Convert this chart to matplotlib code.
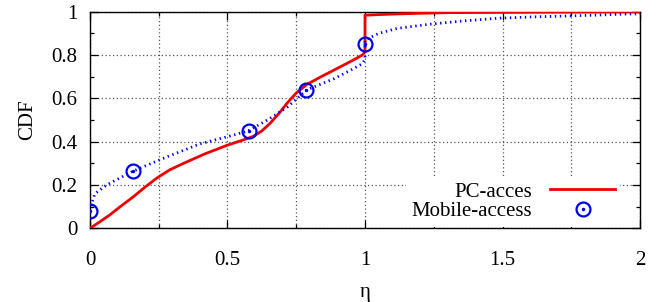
import matplotlib
matplotlib.use('Agg')
import matplotlib.pyplot as plt
from matplotlib.ticker import MultipleLocator

plt.rcParams['font.family'] = ['Liberation Serif', 'DejaVu Serif']

# PC-acces curve
pc_x = [0.0, 0.03, 0.07, 0.11, 0.158, 0.2, 0.243, 0.29, 0.34, 0.42, 0.5, 0.55, 0.595, 0.625, 0.655,
        0.69, 0.716, 0.75, 0.789, 0.84, 0.886, 0.947, 0.99, 1.0, 1.0, 1.05, 1.116, 1.2, 1.3, 1.6, 2.0]
pc_y = [0.0, 0.025, 0.06, 0.1, 0.146, 0.19, 0.232, 0.27, 0.30, 0.345, 0.384, 0.405, 0.425, 0.45, 0.485,
        0.535, 0.577, 0.625, 0.665, 0.70, 0.73, 0.77, 0.80, 0.815, 0.984, 0.987, 0.99, 0.993, 0.996, 0.998, 1.0]

# Mobile-access curve
mob_x = [0.0, 0.005, 0.018, 0.06, 0.158, 0.28, 0.4, 0.52, 0.575, 0.645, 0.718, 0.789, 0.886,
         0.947, 0.99, 1.0, 1.0, 1.05, 1.116, 1.238, 1.36, 1.48, 1.6, 1.72, 1.85, 1.96, 2.0]
mob_y = [0.08, 0.11, 0.16, 0.2, 0.265, 0.33, 0.39, 0.43, 0.45, 0.5, 0.56, 0.64, 0.69,
         0.73, 0.76, 0.78, 0.87, 0.9, 0.923, 0.943, 0.958, 0.97, 0.976, 0.98, 0.985, 0.99, 0.99]

# marker points on the mobile curve
mk_x = [0.0, 0.157, 0.577, 0.787, 1.0]
mk_y = [0.08, 0.265, 0.45, 0.64, 0.853]

fig = plt.figure(figsize=(6.69, 3.02), dpi=100)
ax = fig.add_axes([0.1345, 0.244, 0.8222, 0.717])

ax.plot(pc_x, pc_y, color='#ee0000', lw=2.0, zorder=3)
ax.plot(mob_x, mob_y, color='#0000ee', lw=2.0, linestyle=(0, (0.5, 1.3)), zorder=4)
ax.plot(mk_x, mk_y, linestyle='none', marker='o', ms=10, mfc='none', mec='#0000ee', mew=1.6, zorder=5)
ax.plot(mk_x, mk_y, linestyle='none', marker='.', ms=3, color='#0000ee', zorder=5)

# legend handles
h1, = ax.plot([], [], color='#ee0000', lw=2.0)
h2a, = ax.plot([], [], linestyle='none', marker='o', ms=10, mfc='none', mec='#0000ee', mew=1.6)
h2b, = ax.plot([], [], linestyle='none', marker='.', ms=3, color='#0000ee')
leg = ax.legend([h1, (h2a, h2b)], ['PC-acces', 'Mobile-access'], loc='lower right',
                bbox_to_anchor=(0.983, -0.04), markerfirst=False, frameon=True, fancybox=False,
                edgecolor='none', framealpha=1, fontsize=15, handlelength=3.1,
                labelspacing=0.0, borderpad=0.25, handletextpad=0.9)
leg.set_zorder(6)

ax.set_xlim(0, 2)
ax.set_ylim(0, 1)
ax.xaxis.set_major_locator(MultipleLocator(0.5))
ax.xaxis.set_minor_locator(MultipleLocator(0.25))
ax.yaxis.set_major_locator(MultipleLocator(0.2))
ax.yaxis.set_minor_locator(MultipleLocator(0.1))
ax.xaxis.set_major_formatter(plt.FuncFormatter(lambda v, p: '%g' % v))
ax.yaxis.set_major_formatter(plt.FuncFormatter(lambda v, p: '%g' % v))

ax.grid(which='major', color='#555555', linestyle=(0, (1, 2)), lw=0.9)
ax.grid(which='minor', axis='x', color='#555555', linestyle=(0, (1, 2)), lw=0.9)
ax.tick_params(which='both', direction='in', top=True, right=True, labelsize=15)
ax.tick_params(axis='x', which='major', pad=16)
ax.tick_params(axis='y', which='major', pad=9)
ax.tick_params(which='major', length=6, width=0.9)
ax.tick_params(which='minor', length=3, width=0.9)
for s in ax.spines.values():
    s.set_linewidth(1.0)

ax.set_xlabel('η', fontsize=15, labelpad=10)
ax.set_ylabel('CDF', fontsize=15, labelpad=10)

fig.savefig('out.png', dpi=100)
